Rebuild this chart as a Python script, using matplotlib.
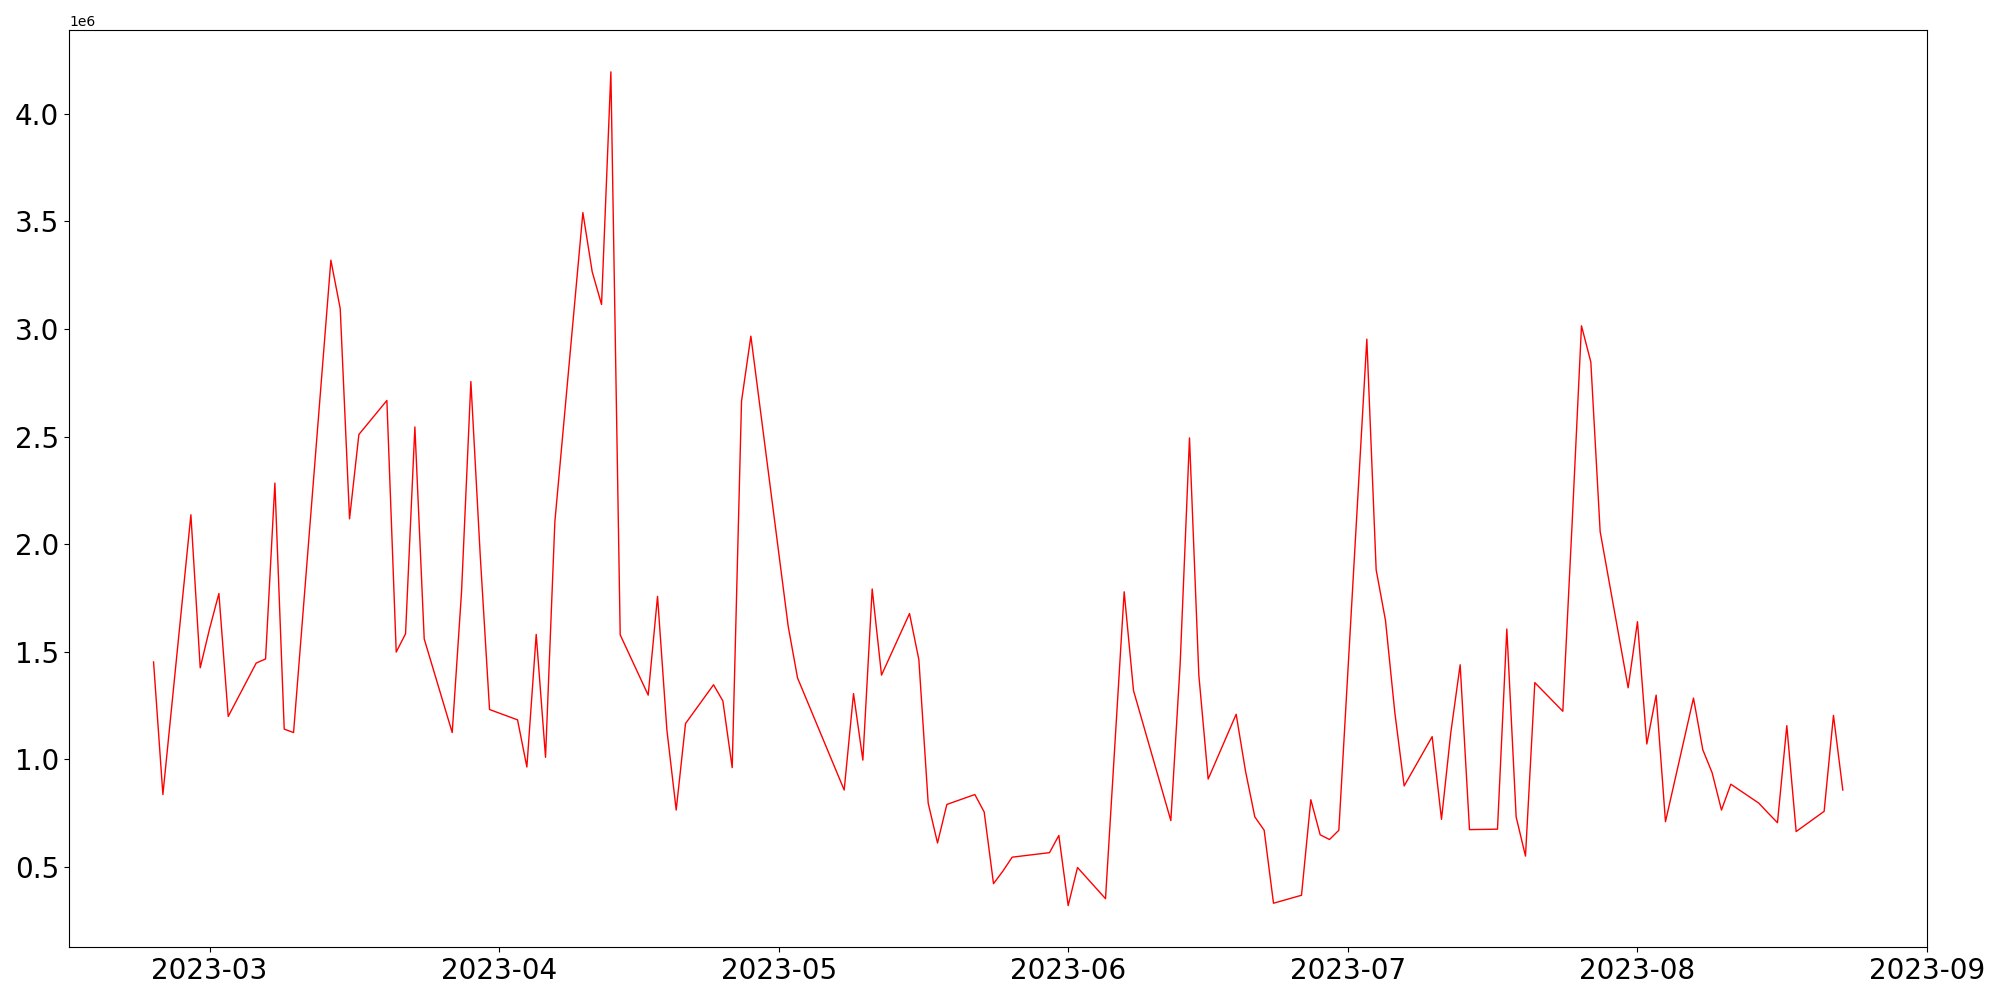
import matplotlib
matplotlib.use("Agg")
import matplotlib.pyplot as plt
import pandas as pd

dates = [
    "2023-02-23", "2023-02-24", "2023-02-27", "2023-02-28", "2023-03-01", "2023-03-02", "2023-03-03",
    "2023-03-06", "2023-03-07", "2023-03-08", "2023-03-09", "2023-03-10",
    "2023-03-14", "2023-03-15", "2023-03-16", "2023-03-17",
    "2023-03-20", "2023-03-21", "2023-03-22", "2023-03-23", "2023-03-24",
    "2023-03-27", "2023-03-28", "2023-03-29", "2023-03-30", "2023-03-31",
    "2023-04-03", "2023-04-04", "2023-04-05", "2023-04-06", "2023-04-07",
    "2023-04-10", "2023-04-11", "2023-04-12", "2023-04-13", "2023-04-14",
    "2023-04-17", "2023-04-18", "2023-04-19", "2023-04-20", "2023-04-21",
    "2023-04-24", "2023-04-25", "2023-04-26", "2023-04-27", "2023-04-28",
    "2023-05-02", "2023-05-03",
    "2023-05-08", "2023-05-09", "2023-05-10", "2023-05-11", "2023-05-12",
    "2023-05-15", "2023-05-16", "2023-05-17", "2023-05-18", "2023-05-19",
    "2023-05-22", "2023-05-23", "2023-05-24", "2023-05-25", "2023-05-26",
    "2023-05-30", "2023-05-31", "2023-06-01", "2023-06-02",
    "2023-06-05", "2023-06-07", "2023-06-08",
    "2023-06-12", "2023-06-13", "2023-06-14", "2023-06-15", "2023-06-16",
    "2023-06-19", "2023-06-20", "2023-06-21", "2023-06-22", "2023-06-23",
    "2023-06-26", "2023-06-27", "2023-06-28", "2023-06-29", "2023-06-30",
    "2023-07-03", "2023-07-04", "2023-07-05", "2023-07-06", "2023-07-07",
    "2023-07-10", "2023-07-11", "2023-07-12", "2023-07-13", "2023-07-14",
    "2023-07-17", "2023-07-18", "2023-07-19", "2023-07-20", "2023-07-21",
    "2023-07-24", "2023-07-25", "2023-07-26", "2023-07-27", "2023-07-28",
    "2023-07-31", "2023-08-01", "2023-08-02", "2023-08-03", "2023-08-04",
    "2023-08-07", "2023-08-08", "2023-08-09", "2023-08-10", "2023-08-11",
    "2023-08-14", "2023-08-15", "2023-08-16", "2023-08-17", "2023-08-18",
    "2023-08-21", "2023-08-22", "2023-08-23",
]

values = [
    1.453, 0.837, 2.137, 1.426, 1.607, 1.771, 1.200,
    1.448, 1.467, 2.284, 1.141, 1.125,
    3.320, 3.095, 2.118, 2.510,
    2.668, 1.499, 1.584, 2.545, 1.560,
    1.125, 1.779, 2.756, 1.950, 1.232,
    1.184, 0.965, 1.581, 1.010, 2.105,
    3.541, 3.266, 3.114, 4.195, 1.579,
    1.299, 1.758, 1.138, 0.765, 1.167,
    1.347, 1.272, 0.962, 2.665, 2.967,
    1.619, 1.379,
    0.858, 1.306, 0.997, 1.792, 1.392,
    1.678, 1.464, 0.797, 0.612, 0.791,
    0.837, 0.756, 0.423, 0.481, 0.546,
    0.567, 0.647, 0.321, 0.498,
    0.353, 1.779, 1.320,
    0.716, 1.445, 2.494, 1.392, 0.909,
    1.210, 0.946, 0.733, 0.671, 0.332,
    0.369, 0.813, 0.650, 0.628, 0.671,
    2.953, 1.881, 1.646, 1.218, 0.877,
    1.106, 0.722, 1.125, 1.440, 0.674,
    0.676, 1.606, 0.733, 0.551, 1.357,
    1.224, 2.100, 3.015, 2.847, 2.059,
    1.333, 1.640, 1.072, 1.299, 0.711,
    1.285, 1.045, 0.938, 0.765, 0.885,
    0.797, 0.751, 0.706, 1.157, 0.665,
    0.759, 1.205, 0.858,
]

x = pd.to_datetime(dates)
y = [v * 1e6 for v in values]

fig, ax = plt.subplots(figsize=(20, 10), dpi=100)
ax.plot(x, y, color='red', linewidth=1)
ax.tick_params(axis='both', labelsize=20)
plt.tight_layout()
plt.savefig('out.png')
